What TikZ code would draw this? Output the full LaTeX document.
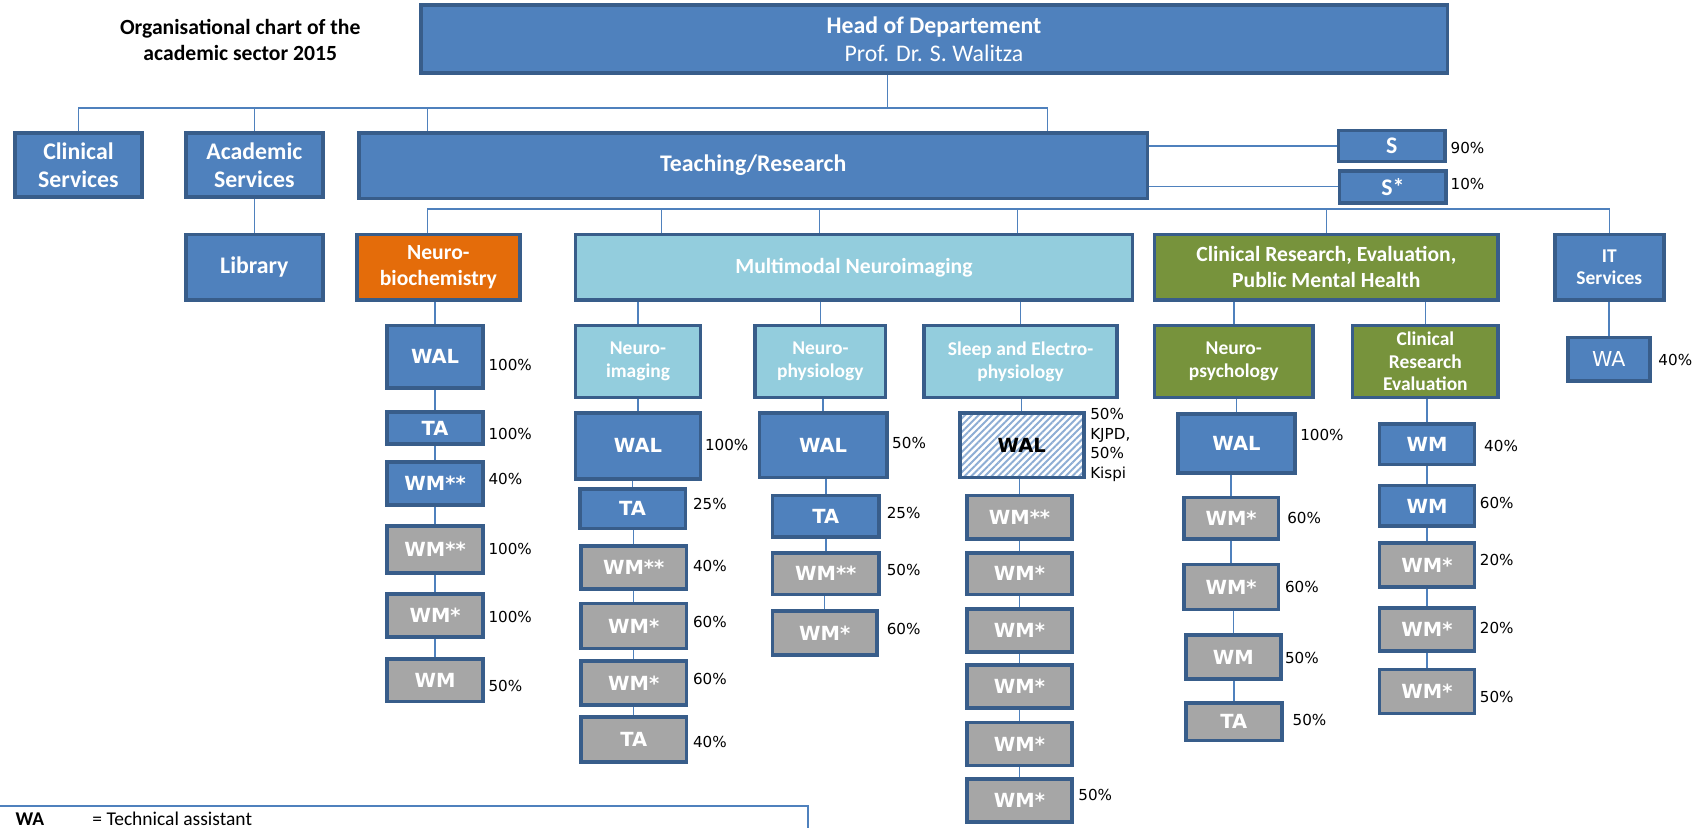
\documentclass[tikz,border=0pt]{standalone}
\usepackage{fontspec}
\setmainfont{Carlito}
\newfontfamily\dejavu{DejaVu Sans}
\usetikzlibrary{positioning, patterns.meta, backgrounds}
\definecolor{OrgBlue}{HTML}{4F81BD}
\definecolor{OrgEdge}{HTML}{385D8A}
\definecolor{OrgGray}{HTML}{A6A6A6}
\definecolor{OrgAqua}{HTML}{93CDDD}
\definecolor{OrgGreen}{HTML}{77933C}
\definecolor{OrgOrange}{HTML}{E46C0A}

\begin{document}
\begin{tikzpicture}[x=0.5pt, y=-0.5pt,
    bluebox/.style={draw=OrgEdge, line width=1.7pt, fill=OrgBlue, text=white, align=center, inner sep=0pt},
    graybox/.style={bluebox, fill=OrgGray},
    aquabox/.style={bluebox, fill=OrgAqua},
    greenbox/.style={bluebox, fill=OrgGreen},
    orangebox/.style={bluebox, fill=OrgOrange},
    hatchbox/.style={bluebox, text=black, preaction={fill=white},
      pattern={Lines[angle=45, distance=2.2pt, line width=0.9pt]}, pattern color=OrgBlue!65},
    sz/.style 2 args={minimum width={(#1-3.4)*0.5pt}, minimum height={(#2-3.4)*0.5pt}},
    lvlone/.style={font=\bfseries\fontsize{11}{13}\selectfont},
    lvltwo/.style={font=\bfseries\fontsize{10}{12}\selectfont},
    lvlthree/.style={font=\bfseries\fontsize{9}{10.5}\selectfont},
    lab/.style={font=\dejavu\bfseries\fontsize{9}{11}\selectfont},
    pct/.style={anchor=west, inner sep=0pt, font=\dejavu\fontsize{7}{9}\selectfont},
    conn/.style={draw=OrgBlue, line width=0.7pt}]
  \useasboundingbox (0,0) rectangle (1568,765);
  \clip (0,0) rectangle (1568,765);

  % Title and head
  \node[font=\bfseries\fontsize{10}{12}\selectfont, align=center] (title) at (222,37) {Organisational chart of the\\academic sector 2015};
  \node[bluebox, lvlone, sz={952}{66}] (head) at (863,36) {Head of Departement\\\mdseries Prof. Dr. S. Walitza};

  % Services and teaching
  \node[bluebox, lvlone, sz={121}{63}] (clin) at (72.5,152.5) {Clinical\\Services};
  \node[bluebox, lvlone, sz={130}{63}] (acad) at (235,152.5) {Academic\\Services};
  \node[bluebox, lvlone, sz={732}{64}] (teach) at (696,153) {Teaching/Research};
  \node[bluebox, lvlone, sz={102}{32}] (s90) at (1286,135) {S};
  \node[bluebox, lvlone, sz={102}{33}] (s10) at (1287,172.5) {S*};
  \node[pct] (s90p) at (1340,137) {90\%};
  \node[pct] (s10p) at (1340,170) {10\%};

  % Groups
  \node[bluebox, lvlone, sz={130}{64}] (lib) at (235,247) {Library};
  \node[orangebox, lvltwo, sz={154}{64}] (nbc) at (405,247) {Neuro-\\biochemistry};
  \node[aquabox, lvltwo, sz={518}{64}] (mmn) at (789,247) {Multimodal Neuroimaging};
  \node[greenbox, lvltwo, sz={321}{64}] (crph) at (1225.5,247) {Clinical Research, Evaluation,\\Public Mental Health};
  \node[bluebox, lvlthree, sz={104}{64}] (its) at (1487,247) {IT\\Services};

  % Sub groups
  \node[aquabox, lvlthree, sz={119}{70}] (nimg) at (589.5,334) {Neuro-\\imaging};
  \node[aquabox, lvlthree, sz={124}{70}] (nphy) at (758,334) {Neuro-\\physiology};
  \node[aquabox, lvlthree, sz={182}{70}] (slp) at (943,334) {Sleep and Electro-\\physiology};
  \node[greenbox, lvlthree, sz={150}{70}] (npsy) at (1140,334) {Neuro-\\psychology};
  \node[greenbox, lvlthree, sz={138}{70}] (cre) at (1317,334) {Clinical\\Research\\Evaluation};
  \node[bluebox, font=\dejavu\fontsize{9.5}{11}\selectfont, sz={79}{44}] (itwa) at (1486.5,332) {WA};
  \node[pct] (itwap) at (1532,333) {40\%};

  % Neurobiochemistry staff
  \node[bluebox, lab, sz={92}{61}] (nb1) at (402,329.5) {WAL};
  \node[bluebox, lab, sz={92}{33}] (nb2) at (402,395.5) {TA};
  \node[bluebox, lab, sz={92}{43}] (nb3) at (402,446.5) {WM**};
  \node[graybox, lab, sz={92}{47}] (nb4) at (402,507.5) {WM**};
  \node[graybox, lab, sz={92}{43}] (nb5) at (402,568.5) {WM*};
  \node[graybox, lab, sz={92}{43}] (nb6) at (402,628.5) {WM};
  \node[pct] (nb1p) at (451,337) {100\%};
  \node[pct] (nb2p) at (451,401) {100\%};
  \node[pct] (nb3p) at (451,443) {40\%};
  \node[pct] (nb4p) at (451,507) {100\%};
  \node[pct] (nb5p) at (451,570) {100\%};
  \node[pct] (nb6p) at (451,634) {50\%};

  % Neuroimaging staff
  \node[bluebox, lab, sz={119}{64}] (ni1) at (589.5,412) {WAL};
  \node[bluebox, lab, sz={101}{40}] (ni2) at (584.5,470) {TA};
  \node[graybox, lab, sz={101}{43}] (ni3) at (585.5,524.5) {WM**};
  \node[graybox, lab, sz={101}{45}] (ni4) at (585.5,578.5) {WM*};
  \node[graybox, lab, sz={101}{44}] (ni5) at (585.5,631) {WM*};
  \node[graybox, lab, sz={101}{45}] (ni6) at (585.5,683.5) {TA};
  \node[pct] (ni1p) at (651,411) {100\%};
  \node[pct] (ni2p) at (640,466) {25\%};
  \node[pct] (ni3p) at (640,523) {40\%};
  \node[pct] (ni4p) at (640,575) {60\%};
  \node[pct] (ni5p) at (640,627) {60\%};
  \node[pct] (ni6p) at (640,686) {40\%};

  % Neurophysiology staff
  \node[bluebox, lab, sz={121}{63}] (np1) at (760.5,411.5) {WAL};
  \node[bluebox, lab, sz={102}{42}] (np2) at (763,477) {TA};
  \node[graybox, lab, sz={102}{42}] (np3) at (763,530) {WM**};
  \node[graybox, lab, sz={100}{44}] (np4) at (762,585) {WM*};
  \node[pct] (np1p) at (824,409) {50\%};
  \node[pct] (np2p) at (819,474) {25\%};
  \node[pct] (np3p) at (819,527) {50\%};
  \node[pct] (np4p) at (819,581) {60\%};

  % Sleep staff
  \node[hatchbox, lab, sz={118}{63}] (sl1) at (944,411.5) {WAL};
  \node[graybox, lab, sz={100}{44}] (sl2) at (942,478) {WM**};
  \node[graybox, lab, sz={100}{42}] (sl3) at (942,530) {WM*};
  \node[graybox, lab, sz={100}{43}] (sl4) at (942,582.5) {WM*};
  \node[graybox, lab, sz={100}{43}] (sl5) at (942,634.5) {WM*};
  \node[graybox, lab, sz={100}{43}] (sl6) at (942,687.5) {WM*};
  \node[graybox, lab, sz={100}{43}] (sl7) at (942,739.5) {WM*};
  \node[pct, align=left] (sl1p) at (1007,411) {50\%\\KJPD,\\50\%\\Kispi};
  \node[pct] (sl7p) at (996,735) {50\%};

  % Neuropsychology staff
  \node[bluebox, lab, sz={111}{58}] (ps1) at (1142.5,410) {WAL};
  \node[graybox, lab, sz={91}{42}] (ps2) at (1137.5,479) {WM*};
  \node[graybox, lab, sz={91}{45}] (ps3) at (1137.5,542.5) {WM*};
  \node[graybox, lab, sz={91}{44}] (ps4) at (1139.5,607) {WM};
  \node[graybox, lab, sz={92}{38}] (ps5) at (1140,667) {TA};
  \node[pct] (ps1p) at (1201,402) {100\%};
  \node[pct] (ps2p) at (1189,479) {60\%};
  \node[pct] (ps3p) at (1187,542) {60\%};
  \node[pct] (ps4p) at (1187,608) {50\%};
  \node[pct] (ps5p) at (1194,665) {50\%};

  % Clinical research evaluation staff
  \node[bluebox, lab, sz={91}{41}] (ce1) at (1318.5,410.5) {WM};
  \node[bluebox, lab, sz={91}{41}] (ce2) at (1318.5,467.5) {WM};
  \node[graybox, lab, sz={91}{44}] (ce3) at (1318.5,522) {WM*};
  \node[graybox, lab, sz={91}{43}] (ce4) at (1318.5,581.5) {WM*};
  \node[graybox, lab, sz={91}{44}] (ce5) at (1318.5,639) {WM*};
  \node[pct] (ce1p) at (1371,412) {40\%};
  \node[pct] (ce2p) at (1367,465) {60\%};
  \node[pct] (ce3p) at (1367,517) {20\%};
  \node[pct] (ce4p) at (1367,580) {20\%};
  \node[pct] (ce5p) at (1367,644) {50\%};

  % Legend
  \node[draw=OrgBlue, line width=0.7pt, anchor=north west, inner sep=0pt,
    minimum width=375pt, minimum height=40pt] (legend) at (-4,744) {};
  \node[anchor=base west, inner sep=0pt, font=\bfseries\fontsize{9}{11}\selectfont] (lgwa) at (14,763) {WA};
  \node[anchor=base west, inner sep=0pt, font=\fontsize{9}{11}\selectfont] (lgtxt) at (85,763) {= Technical assistant};

  % Connectors
  \begin{scope}[on background layer]
    \coordinate (hb) at (820,100);
    \coordinate (tl) at (395,100);
    \coordinate (tr) at (968,100);
    \draw[conn] (head.south -| hb) -- (hb);
    \draw[conn] (clin.north) |- (tr) -- (tr |- teach.north);
    \draw[conn] (acad.north) -- (acad.north |- hb);
    \draw[conn] (tl) -- (tl |- teach.north);
    \draw[conn] (acad) -- (lib);
    \draw[conn] (s90.west) -- (s90.west -| teach.east);
    \draw[conn] (s10.west) -- (s10.west -| teach.east);
    \coordinate (bl) at (395,193);
    \coordinate (m1) at (611,193);
    \coordinate (m2) at (757,193);
    \coordinate (m3) at (940,193);
    \draw[conn] (bl |- nbc.north) -- (bl) -| (its.north);
    \foreach \c in {m1,m2,m3}
      \draw[conn] (\c) -- (\c |- mmn.north);
    \draw[conn] (crph.north) -- (crph.north |- bl);
    \foreach \a/\b in {nbc/nb1, nb1/nb2, nb2/nb3, nb3/nb4, nb4/nb5, nb5/nb6,
        mmn/nimg, nimg/ni1, ni1/ni2, ni2/ni3, ni3/ni4, ni4/ni5, ni5/ni6,
        mmn/nphy, nphy/np1, np1/np2, np2/np3, np3/np4,
        mmn/slp, slp/sl1, sl1/sl2, sl2/sl3, sl3/sl4, sl4/sl5, sl5/sl6, sl6/sl7,
        crph/npsy, npsy/ps1, ps1/ps2, ps2/ps3, ps3/ps4, ps4/ps5,
        crph/cre, cre/ce1, ce1/ce2, ce2/ce3, ce3/ce4, ce4/ce5, its/itwa}
      \draw[conn] (\b) -- (\b |- \a);
  \end{scope}
\end{tikzpicture}
\end{document}
